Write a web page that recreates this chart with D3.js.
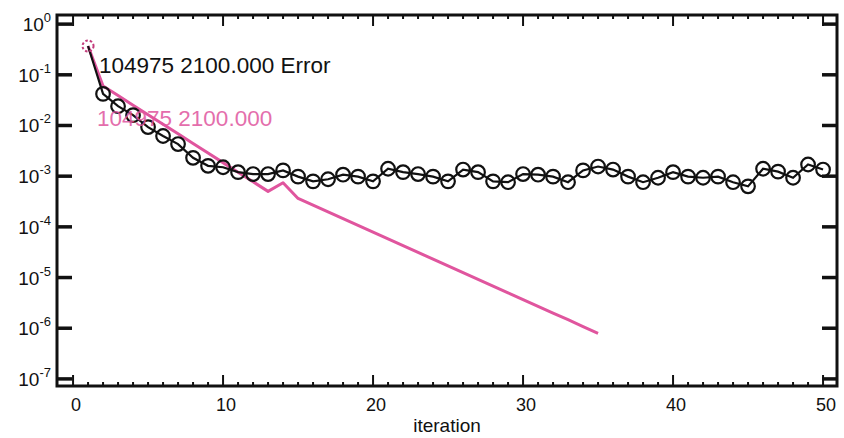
<!DOCTYPE html>
<html>
<head>
<meta charset="utf-8">
<script src="https://cdn.jsdelivr.net/npm/d3@7"></script>
<style>
  body { margin: 0; background: #fff; }
  svg { display: block; font-family: "Liberation Sans", Arial, sans-serif; }
</style>
</head>
<body>
<svg id="chart" width="844" height="438"></svg>
<script>
// iterations 1..50, black series (Error) with circle markers
const errorValues = [
  0.37, 0.042, 0.024, 1.6e-2, 9.3e-3, 6.2e-3, 4.3e-3, 2.3e-3, 1.6e-3, 1.5e-3,
  1.2e-3, 1.1e-3, 1.1e-3, 1.3e-3, 9.8e-4, 7.9e-4, 8.7e-4, 1.07e-3, 9.8e-4, 7.9e-4,
  1.4e-3, 1.2e-3, 1.1e-3, 9.8e-4, 7.9e-4, 1.35e-3, 1.2e-3, 7.9e-4, 7.6e-4, 1.1e-3,
  1.07e-3, 9.8e-4, 7.6e-4, 1.3e-3, 1.55e-3, 1.35e-3, 9.8e-4, 7.6e-4, 9.3e-4, 1.2e-3,
  9.8e-4, 9.3e-4, 9.8e-4, 7.6e-4, 6.3e-4, 1.4e-3, 1.23e-3, 9.3e-4, 1.7e-3, 1.35e-3
];
// iterations 1..35, pink series
const pinkValues = [
  0.37, 0.0603, 0.0390, 0.0252, 0.0163, 0.0106, 6.84e-3, 4.43e-3, 2.86e-3, 1.85e-3,
  1.20e-3, 7.76e-4, 5.01e-4, 7.4e-4, 3.63e-4, 2.67e-4, 1.97e-4, 1.45e-4, 1.07e-4, 7.85e-5,
  5.78e-5, 4.26e-5, 3.13e-5, 2.31e-5, 1.70e-5, 1.25e-5, 9.20e-6, 6.78e-6, 4.99e-6, 3.67e-6,
  2.70e-6, 1.99e-6, 1.47e-6, 1.08e-6, 7.94e-7
];
const xTicks = [0, 10, 20, 30, 40, 50];
const yExponents = [0, -1, -2, -3, -4, -5, -6, -7];
const errorLabel = "104975 2100.000 Error";
const pinkLabel = "104975 2100.000";
const xLabel = "iteration";

const black = "#111";
const pink = "#e0559e";

const plotLeft = 57, plotRight = 837, plotTop = 15, plotBottom = 386;

const svg = d3.select("#chart");

const x = d3.scaleLinear().domain([-1.07, 50.93]).range([plotLeft, plotRight]);
const y = d3.scaleLog().domain([Math.pow(10, -7.14), Math.pow(10, 0.18)]).range([plotBottom, plotTop]);

const errData = errorValues.map((v, i) => [i + 1, v]);
const pinkData = pinkValues.map((v, i) => [i + 1, v]);

const line = d3.line()
    .x(d => x(d[0]))
    .y(d => y(d[1]));

// pink line
svg.append("path")
    .attr("d", line(pinkData))
    .attr("fill", "none")
    .attr("stroke", pink)
    .attr("stroke-width", 3)
    .attr("stroke-linejoin", "round");

// black line + circles
svg.append("path")
    .attr("d", line(errData))
    .attr("fill", "none")
    .attr("stroke", black)
    .attr("stroke-width", 2.2);

svg.append("g")
    .selectAll("circle")
    .data(errData.slice(1))
    .join("circle")
    .attr("cx", d => x(d[0]))
    .attr("cy", d => y(d[1]))
    .attr("r", 6.8)
    .attr("fill", "none")
    .attr("stroke", black)
    .attr("stroke-width", 2.2);

// first point: dashed marker
svg.append("circle")
    .attr("cx", x(pinkData[0][0]))
    .attr("cy", y(pinkData[0][1]))
    .attr("r", 5.5)
    .attr("fill", "none")
    .attr("stroke", "#c43c7c")
    .attr("stroke-width", 2)
    .attr("stroke-dasharray", "2.5,2");

// frame
svg.append("rect")
    .attr("x", plotLeft)
    .attr("y", plotTop)
    .attr("width", plotRight - plotLeft)
    .attr("height", plotBottom - plotTop)
    .attr("fill", "none")
    .attr("stroke", black)
    .attr("stroke-width", 3);

// x ticks (inward, top and bottom)
const ticksG = svg.append("g").attr("stroke", black).attr("stroke-width", 2);
const minor = d3.range(0, 51);
ticksG.selectAll("line.xb")
    .data(minor)
    .join("line")
    .attr("class", "xb")
    .attr("x1", d => x(d))
    .attr("x2", d => x(d))
    .attr("y1", plotBottom)
    .attr("y2", d => plotBottom - (d % 10 === 0 ? 11 : 4));
ticksG.selectAll("line.xt")
    .data(minor)
    .join("line")
    .attr("class", "xt")
    .attr("x1", d => x(d))
    .attr("x2", d => x(d))
    .attr("y1", plotTop)
    .attr("y2", d => plotTop + (d % 10 === 0 ? 11 : 4));

// y ticks (inward, left and right)
ticksG.selectAll("line.yl")
    .data(yExponents)
    .join("line")
    .attr("class", "yl")
    .attr("x1", plotLeft)
    .attr("x2", plotLeft + 15)
    .attr("y1", d => y(Math.pow(10, d)))
    .attr("y2", d => y(Math.pow(10, d)))
    .attr("stroke-width", 3.5);
ticksG.selectAll("line.yr")
    .data(yExponents)
    .join("line")
    .attr("class", "yr")
    .attr("x1", plotRight)
    .attr("x2", plotRight - 15)
    .attr("y1", d => y(Math.pow(10, d)))
    .attr("y2", d => y(Math.pow(10, d)))
    .attr("stroke-width", 3.5);

// tick labels
svg.append("g")
    .selectAll("text")
    .data(xTicks)
    .join("text")
    .attr("x", d => x(d) + 3)
    .attr("y", 411)
    .attr("text-anchor", "middle")
    .attr("font-size", 18)
    .attr("fill", black)
    .text(d => d);

const yl = svg.append("g")
    .selectAll("text")
    .data(yExponents)
    .join("text")
    .attr("x", 51)
    .attr("y", d => y(Math.pow(10, d)) + 7)
    .attr("text-anchor", "end")
    .attr("font-size", 19)
    .attr("fill", black);
yl.append("tspan").text("10");
yl.append("tspan")
    .attr("dy", -9)
    .attr("font-size", 13)
    .text(d => d);

svg.append("text")
    .attr("x", 447)
    .attr("y", 432)
    .attr("text-anchor", "middle")
    .attr("font-size", 19)
    .attr("fill", black)
    .text(xLabel);

// in-plot labels
svg.append("text")
    .attr("x", 99)
    .attr("y", 73)
    .attr("font-size", 22.5)
    .attr("fill", black)
    .text(errorLabel);

svg.append("text")
    .attr("x", 97)
    .attr("y", 126)
    .attr("font-size", 22.5)
    .attr("fill", pink)
    .attr("opacity", 0.85)
    .text(pinkLabel);
</script>
</body>
</html>
